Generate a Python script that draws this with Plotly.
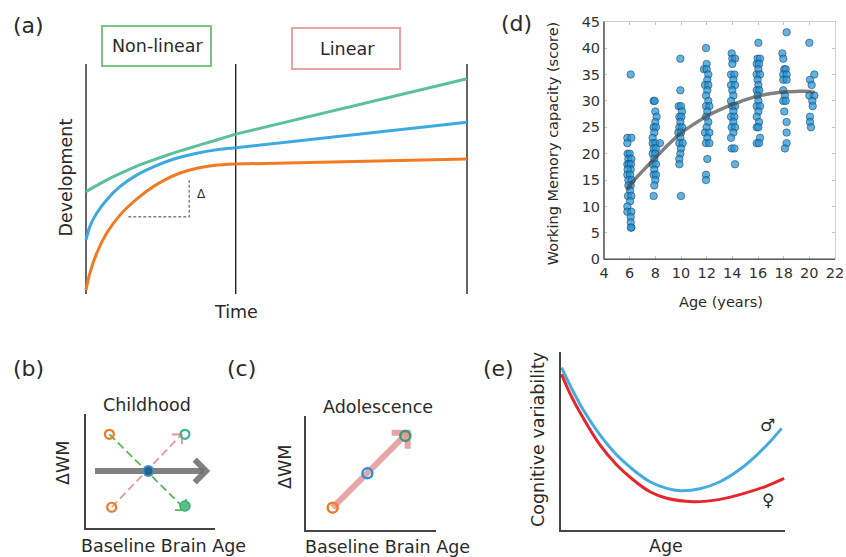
import math
import plotly.graph_objects as go

W, H = 846, 557
FONT = "DejaVu Sans"
TXT = "#2a2a2a"


def px(x):
    return x / W


def py(y):
    return 1 - y / H


# ---------------- Panel (a): development trajectories ----------------
phase_bounds = [0.0, 3.93, 10.0]
green_nl_t = [0.0, 0.37, 0.72, 1.15, 1.59, 2.03, 2.47, 2.91, 3.34, 3.93]
green_nl_d = [4.45, 4.80, 5.10, 5.43, 5.72, 5.98, 6.22, 6.44, 6.65, 6.95]
green_lin_t = [3.93, 10.0]
green_lin_d = [6.95, 9.36]

blue_nl_t = [0.0, 0.10, 0.28, 0.54, 0.89, 1.33, 1.77, 2.29, 2.91, 3.52, 3.93]
blue_nl_d = [2.35, 2.93, 3.51, 4.09, 4.67, 5.17, 5.53, 5.86, 6.12, 6.29, 6.36]
blue_lin_t = [3.93, 10.0]
blue_lin_d = [6.36, 7.47]

orange_nl_t = [0.0, 0.10, 0.28, 0.54, 0.89, 1.24, 1.59, 2.03, 2.47, 2.91, 3.34, 3.93]
orange_nl_d = [0.17, 0.90, 1.77, 2.64, 3.43, 4.00, 4.47, 4.93, 5.26, 5.47, 5.59, 5.65]
orange_lin_t = [3.93, 10.0]
orange_lin_d = [5.65, 5.87]

delta_t = [1.11, 2.71, 2.71]
delta_d = [3.36, 3.36, 4.96]

# ---------------- Panel (d): working memory scatter ----------------
wm_age = [
    # age 6
    6.08, 5.82, 6.13, 5.82, 5.84, 6.00, 5.90, 6.13, 5.82, 5.95, 6.10, 6.08, 5.84,
    5.82, 6.03, 5.90, 6.16, 6.08, 5.90, 6.03, 5.87, 6.13, 6.03, 5.82, 5.82, 6.13,
    6.08, 6.08, 6.13, 6.10,
    # age 8
    7.87, 7.95, 8.00, 8.10, 8.00, 7.87, 8.05, 7.92, 7.79, 7.79, 8.00, 8.36, 7.87,
    8.05, 7.79, 8.00, 7.92, 7.79, 8.05, 7.92, 7.87, 8.05, 8.00, 7.92, 7.87,
    # age 10
    9.95, 9.95, 9.82, 10.00, 10.08, 9.87, 10.03, 9.95, 9.87, 10.08, 9.79, 10.00,
    9.95, 9.87, 10.13, 10.00, 9.95, 9.87, 9.87, 10.00,
    # age 12
    11.95, 12.00, 11.79, 12.00, 12.13, 12.05, 11.87, 12.13, 12.05, 11.95, 12.13,
    11.95, 12.21, 12.05, 11.95, 12.13, 12.00, 11.87, 12.21, 12.05, 11.95, 12.21,
    12.05, 11.95, 11.95,
    # age 14
    13.95, 14.00, 14.21, 14.00, 13.90, 14.16, 14.08, 13.90, 14.21, 14.00, 14.08,
    13.90, 14.00, 14.21, 14.08, 13.90, 14.16, 14.08, 13.95, 14.21, 14.08, 13.90,
    13.95, 14.16, 14.21,
    # age 16
    16.03, 15.97, 16.16, 15.90, 16.08, 16.03, 15.90, 16.16, 15.97, 16.03, 15.90,
    16.10, 15.97, 16.03, 15.90, 16.16, 16.03, 15.90, 16.08, 15.90, 16.03, 16.16,
    15.90, 16.08,
    # age 18
    18.23, 17.90, 17.97, 18.05, 18.16, 17.97, 18.23, 17.97, 18.23, 17.97, 18.10,
    17.97, 18.16, 18.05, 18.23, 18.23, 18.23, 18.10,
    # age 20
    20.00, 20.39, 20.05, 20.18, 20.00, 20.39, 20.23, 20.26, 20.05, 20.05, 20.13,
]
wm_score = [
    # age 6
    35, 23, 23, 22, 20, 20, 19, 19, 18, 18, 18, 17, 17,
    16, 16, 15, 15, 14, 14, 13, 12, 12, 11, 10, 9, 9,
    8, 7, 6, 6,
    # age 8
    30, 30, 28, 27, 26, 25, 25, 24, 23, 22, 22, 22, 21,
    21, 20, 20, 19, 18, 18, 17, 16, 16, 15, 14, 12,
    # age 10
    38, 32, 29, 29, 28, 27, 27, 26, 25, 25, 24, 24,
    23, 22, 22, 21, 20, 19, 18, 12,
    # age 12
    40, 37, 36, 36, 35, 34, 33, 33, 32, 31, 30,
    29, 29, 28, 27, 26, 25, 24, 24, 23, 22, 22,
    19, 16, 15,
    # age 14
    39, 38, 38, 37, 35, 35, 34, 33, 33, 32, 31,
    30, 29, 29, 28, 27, 27, 26, 25, 25, 24, 23,
    21, 21, 18,
    # age 16
    41, 38, 38, 37, 37, 36, 35, 35, 34, 33, 32,
    32, 31, 30, 29, 29, 28, 27, 26, 25, 25, 23,
    22, 22,
    # age 18
    43, 39, 38, 36, 36, 35, 35, 34, 34, 32, 31,
    30, 30, 28, 26, 24, 22, 21,
    # age 20
    41, 35, 34, 33, 31, 31, 30, 29, 27, 26, 25,
]
fit_age = [5.8, 6, 7, 8, 9, 10, 11, 12, 13, 14, 15, 16, 17, 18, 19, 20, 20.4]
fit_score = [13.1, 14.0, 16.7, 19.2, 21.7, 23.9, 25.6, 27.1, 28.3, 29.3, 30.2,
             30.9, 31.4, 31.7, 31.8, 31.8, 31.6]
d_xticks = list(range(4, 23, 2))
d_yticks = list(range(0, 46, 5))

# ---------------- Panel (b): childhood ----------------
b_orange_x = [1.81, 1.99]
b_orange_y = [8.22, 1.82]
b_green_open_x = [7.67]
b_green_open_y = [8.22]
b_green_fill_x = [7.67]
b_green_fill_y = [1.93]
b_center_x = [4.83]
b_center_y = [5.0]
b_grey_arrow = [(0.70, 5.0), (9.30, 5.0)]
b_green_arrow = [(1.81, 8.22), (7.75, 1.58)]
b_pink_arrow = [(1.99, 1.82), (7.42, 8.22)]

# ---------------- Panel (c): adolescence ----------------
c_orange = (2.05, 1.96)
c_blue = (4.72, 4.97)
c_green = (7.64, 8.25)
c_arrow = [(2.05, 1.96), (7.82, 8.54)]

# ---------------- Panel (e): cognitive variability ----------------
male_x = [0.04, 0.41, 1.01, 1.75, 2.50, 3.24, 3.98, 4.73, 5.32, 6.21, 7.10, 7.99,
          8.74, 9.33, 9.85]
male_y = [9.12, 8.15, 6.74, 5.34, 4.21, 3.37, 2.71, 2.34, 2.21, 2.32, 2.71, 3.41,
          4.21, 4.96, 5.71]
female_x = [0.04, 0.41, 1.01, 1.75, 2.50, 3.24, 3.98, 4.73, 5.91, 7.10, 8.29, 9.18,
            9.96]
female_y = [8.75, 7.68, 6.28, 4.78, 3.65, 2.81, 2.15, 1.78, 1.59, 1.72, 2.10, 2.47,
            2.90]

fig = go.Figure()

# ---- panel (a)
for t in phase_bounds:
    fig.add_trace(go.Scatter(x=[t, t], y=[0, 10], mode="lines", xaxis="x", yaxis="y",
                             line=dict(color="#151515", width=1.3), hoverinfo="skip"))
fig.add_trace(go.Scatter(x=delta_t, y=delta_d, mode="lines", xaxis="x", yaxis="y",
                         line=dict(color="#808080", width=1.4, dash="3px,2px")))
for (nt, nd, lt, ld, col) in [
    (green_nl_t, green_nl_d, green_lin_t, green_lin_d, "#5cc19b"),
    (blue_nl_t, blue_nl_d, blue_lin_t, blue_lin_d, "#3ea9e1"),
    (orange_nl_t, orange_nl_d, orange_lin_t, orange_lin_d, "#f47a22"),
]:
    fig.add_trace(go.Scatter(x=nt, y=nd, mode="lines", xaxis="x", yaxis="y",
                             line=dict(color=col, width=3, shape="spline", smoothing=1.0)))
    fig.add_trace(go.Scatter(x=lt, y=ld, mode="lines", xaxis="x", yaxis="y",
                             line=dict(color=col, width=3)))

# ---- panel (d)
fig.add_trace(go.Scatter(x=wm_age, y=wm_score, mode="markers", xaxis="x2", yaxis="y2",
                         marker=dict(size=7.5, color="rgba(38,148,212,0.72)",
                                     line=dict(color="rgba(20,55,95,0.65)", width=0.8))))
fig.add_trace(go.Scatter(x=fit_age, y=fit_score, mode="lines", xaxis="x2", yaxis="y2",
                         line=dict(color="rgba(70,70,70,0.68)", width=3.5, shape="spline")))


def arrow_head(p0, p1, sx, sy, length):
    dx = (p1[0] - p0[0]) * sx
    dy = (p1[1] - p0[1]) * sy
    n = math.hypot(dx, dy)
    ux, uy = -dx / n, -dy / n
    xs, ys = [], []
    for ang in (math.radians(45), math.radians(-45)):
        rx = ux * math.cos(ang) - uy * math.sin(ang)
        ry = ux * math.sin(ang) + uy * math.cos(ang)
        xs.append(p1[0] + rx * length / sx)
        ys.append(p1[1] + ry * length / sy)
    return [xs[0], p1[0], xs[1]], [ys[0], p1[1], ys[1]]


# ---- panel (b)
SXB, SYB = 12.9, 11.4
for arr, col, L in [(b_green_arrow, "#5db55a", 11), (b_pink_arrow, "#e59a9b", 10)]:
    fig.add_trace(go.Scatter(x=[arr[0][0], arr[1][0]], y=[arr[0][1], arr[1][1]],
                             mode="lines", xaxis="x3", yaxis="y3",
                             line=dict(color=col, width=1.8, dash="8px,4px")))
    hx, hy = arrow_head(arr[0], arr[1], SXB, SYB, L)
    fig.add_trace(go.Scatter(x=hx, y=hy, mode="lines", xaxis="x3", yaxis="y3",
                             line=dict(color=col, width=1.8)))
fig.add_trace(go.Scatter(x=[b_grey_arrow[0][0], b_grey_arrow[1][0] - 0.15],
                         y=[b_grey_arrow[0][1], b_grey_arrow[1][1]],
                         mode="lines", xaxis="x3", yaxis="y3",
                         line=dict(color="rgba(110,110,110,0.88)", width=6)))
hx, hy = arrow_head(b_grey_arrow[0], b_grey_arrow[1], SXB, SYB, 16)
fig.add_trace(go.Scatter(x=hx, y=hy, mode="lines", xaxis="x3", yaxis="y3",
                         line=dict(color="rgba(110,110,110,0.88)", width=6)))
fig.add_trace(go.Scatter(x=b_orange_x, y=b_orange_y, mode="markers", xaxis="x3", yaxis="y3",
                         marker=dict(symbol="circle-open", size=9, color="#f07b26",
                                     line=dict(width=2.2))))
fig.add_trace(go.Scatter(x=b_green_open_x, y=b_green_open_y, mode="markers", xaxis="x3",
                         yaxis="y3", marker=dict(symbol="circle-open", size=9, color="#3db58c",
                                                 line=dict(width=2.2))))
fig.add_trace(go.Scatter(x=b_green_fill_x, y=b_green_fill_y, mode="markers", xaxis="x3",
                         yaxis="y3", marker=dict(symbol="circle", size=10, color="#5cc07f",
                                                 line=dict(color="#3aae80", width=1.5))))
fig.add_trace(go.Scatter(x=b_center_x, y=b_center_y, mode="markers", xaxis="x3", yaxis="y3",
                         marker=dict(symbol="circle", size=10, color="#2d5f7e",
                                     line=dict(color="#3b8fd6", width=2))))

# ---- panel (c)
SXC, SYC = 13.0, 11.4
fig.add_trace(go.Scatter(x=[c_arrow[0][0], c_arrow[1][0]], y=[c_arrow[0][1], c_arrow[1][1]],
                         mode="lines", xaxis="x4", yaxis="y4",
                         line=dict(color="rgba(226,150,153,0.85)", width=6)))
hx, hy = arrow_head(c_arrow[0], c_arrow[1], SXC, SYC, 16)
fig.add_trace(go.Scatter(x=hx, y=hy, mode="lines", xaxis="x4", yaxis="y4",
                         line=dict(color="rgba(226,150,153,0.85)", width=6)))
for pt, col in [(c_orange, "#f07b26"), (c_blue, "#2f8fd8"), (c_green, "#3d9a6e")]:
    fig.add_trace(go.Scatter(x=[pt[0]], y=[pt[1]], mode="markers", xaxis="x4", yaxis="y4",
                             marker=dict(symbol="circle-open", size=10, color=col,
                                         line=dict(width=2.5))))

# ---- panel (e)
fig.add_trace(go.Scatter(x=male_x, y=male_y, mode="lines", xaxis="x5", yaxis="y5",
                         line=dict(color="#45ace2", width=3, shape="spline")))
fig.add_trace(go.Scatter(x=female_x, y=female_y, mode="lines", xaxis="x5", yaxis="y5",
                         line=dict(color="#e5262b", width=3, shape="spline")))

hidden = dict(visible=False, automargin=False)
plain = dict(showline=True, linecolor="#444", linewidth=1.6, showticklabels=False,
             ticks="", showgrid=False, zeroline=False, automargin=False)
dax = dict(ticks="inside", ticklen=3, tickcolor="#c4c4c4", showline=True,
           linecolor="#d0d0d0", linewidth=1, mirror="ticks", showgrid=False,
           zeroline=False, tickfont=dict(size=14.5, color="#333"), automargin=False)

fig.update_layout(
    template="none",
    width=W, height=H,
    autosize=False,
    margin=dict(l=0, r=0, t=0, b=0, pad=0, autoexpand=False),
    paper_bgcolor="white", plot_bgcolor="rgba(0,0,0,0)",
    showlegend=False,
    hovermode=False,
    font=dict(family=FONT, color=TXT),
    xaxis=dict(domain=[px(82.19), px(470.81)], range=[-0.1, 10.1], **hidden),
    yaxis=dict(domain=[py(298.6), py(59.4)], range=[-0.2, 10.2], **hidden),
    xaxis2=dict(domain=[px(604), px(835)], range=[4, 22], tickvals=d_xticks,
                anchor="y2", **dax),
    yaxis2=dict(domain=[py(259.3), py(21.7)], range=[0, 45], tickvals=d_yticks,
                anchor="x2", **dax),
    xaxis3=dict(domain=[px(86), px(215)], range=[0, 10], anchor="y3", **plain),
    yaxis3=dict(domain=[py(528), py(414)], range=[0, 10], anchor="x3", **plain),
    xaxis4=dict(domain=[px(306), px(436)], range=[0, 10], anchor="y4", **plain),
    yaxis4=dict(domain=[py(530), py(416)], range=[0, 10], anchor="x4", **plain),
    xaxis5=dict(domain=[px(560.7), px(785)], range=[0, 10], anchor="y5", **plain),
    yaxis5=dict(domain=[py(530), py(352)], range=[0, 10], anchor="x5", **plain),
)

shapes = [
    dict(type="rect", xref="paper", yref="paper", x0=px(102), x1=px(211), y0=py(66), y1=py(26),
         line=dict(color="#7cc47f", width=2)),
    dict(type="rect", xref="paper", yref="paper", x0=px(292), x1=px(400), y0=py(69), y1=py(28),
         line=dict(color="#e9a2a6", width=2)),
    dict(type="line", xref="x2 domain", yref="y2 domain", x0=0, x1=0, y0=0, y1=1,
         line=dict(color="#555", width=1.5)),
    dict(type="line", xref="x2 domain", yref="y2 domain", x0=0, x1=1, y0=0, y1=0,
         line=dict(color="#555", width=1.5)),
]
fig.update_layout(shapes=shapes)


def ann(text, x, y, size=17.5, angle=0, color=TXT):
    return dict(text=text, x=px(x), y=py(y), xref="paper", yref="paper",
                xanchor="center", yanchor="middle", showarrow=False, textangle=angle,
                font=dict(family=FONT, size=size, color=color))


anns = [
    ann("(a)", 28, 25, 22), ann("(b)", 28.3, 368.3, 22), ann("(c)", 241, 368.3, 22),
    ann("(d)", 516, 23.3, 22), ann("(e)", 498.5, 368, 22),
    ann("Non-linear", 157.7, 46), ann("Linear", 347.7, 49),
    ann("Development", 65, 177.5, angle=-90), ann("Time", 235.7, 312.3),
    ann("Δ", 201.7, 194, 12),
    ann("Working Memory capacity (score)", 553, 144.2, 14.5, -90),
    ann("Age (years)", 721, 301.7, 14.5),
    ann("Childhood", 147, 405), ann("ΔWM", 63, 463, angle=-90),
    ann("Baseline Brain Age", 163, 546),
    ann("Adolescence", 378, 407), ann("ΔWM", 285, 467, angle=-90),
    ann("Baseline Brain Age", 387, 547),
    ann("Cognitive variability", 538, 440, angle=-90), ann("Age", 666, 546),
    ann("♂", 767.7, 425, 17), ann("♀", 767.7, 500, 17),
]
fig.update_layout(annotations=anns)

fig.write_html(
    "out.html",
    config={"displayModeBar": False, "staticPlot": True},
    post_script="document.body.style.margin='0px';document.body.style.padding='0px';",
)
